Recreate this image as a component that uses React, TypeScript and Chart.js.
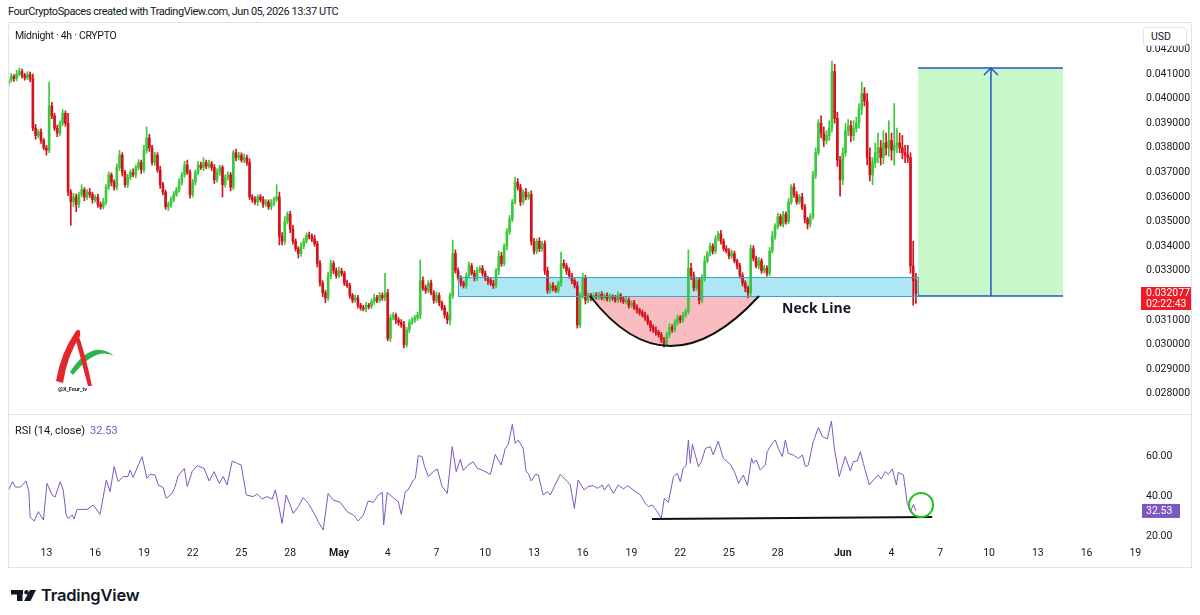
import React, { useEffect, useRef } from 'react';
import { Chart, registerables } from 'chart.js';

Chart.register(...registerables);

// ---------- DATA (prices in units of 0.00001 USD) ----------
const UNIT = 1e-5;
const FIRST_OPEN = 4060;
const closes = [
  4075,4090,4082,4100,4110,4095,4085,4098,4080,3880,
  3850,3865,3830,3800,3790,3970,3930,3880,3860,3900,
  3940,3900,3620,3580,3600,3570,3610,3630,3600,3620,
  3610,3590,3600,3570,3560,3580,3640,3690,3660,3640,
  3720,3770,3700,3650,3680,3700,3690,3720,3740,3710,
  3790,3840,3800,3740,3770,3710,3650,3620,3560,3570,
  3590,3610,3630,3660,3690,3730,3700,3610,3660,3700,
  3730,3720,3740,3725,3735,3720,3670,3700,3720,3650,
  3680,3690,3640,3780,3760,3770,3750,3760,3740,3600,
  3590,3580,3600,3590,3570,3580,3560,3575,3590,3600,
  3440,3420,3500,3530,3470,3420,3390,3370,3400,3420,
  3445,3440,3430,3410,3330,3250,3210,3190,3280,3330,
  3300,3280,3300,3290,3250,3240,3200,3180,3190,3160,
  3150,3145,3160,3155,3175,3190,3180,3200,3190,3210,
  3025,3110,3120,3100,3090,3080,3000,3060,3090,3100,
  3110,3120,3260,3230,3220,3250,3210,3180,3200,3170,
  3150,3120,3100,3200,3370,3300,3270,3250,3240,3280,
  3320,3290,3270,3300,3310,3290,3270,3260,3250,3240,
  3300,3360,3330,3400,3460,3510,3580,3660,3640,3580,
  3620,3600,3610,3420,3380,3420,3390,3410,3300,3220,
  3240,3230,3220,3250,3330,3320,3300,3280,3260,3240,
  3080,3200,3270,3180,3200,3190,3200,3195,3205,3190,
  3200,3185,3195,3190,3180,3200,3185,3175,3180,3160,
  3170,3150,3140,3130,3120,3110,3090,3070,3060,3050,
  3040,3020,3005,3040,3070,3060,3090,3110,3100,3120,
  3135,3310,3280,3230,3260,3180,3270,3340,3370,3400,
  3380,3430,3450,3420,3390,3380,3360,3370,3340,3320,
  3280,3250,3230,3210,3390,3350,3320,3340,3300,3310,
  3290,3380,3440,3480,3520,3490,3530,3500,3580,3640,
  3610,3580,3600,3560,3510,3490,3520,3690,3780,3900,
  3860,3830,3850,3880,4110,3920,3750,3670,3780,3870,
  3890,3850,3880,3900,3960,4020,3990,3760,3690,3740,
  3780,3800,3760,3820,3800,3830,3790,3810,3820,3800,
  3780,3770,3760,3320,3260,3207.7,
];
const upperWicks = [
  10,12,8,15,14,10,8,12,10,20,
  15,10,12,8,10,97,15,10,12,10,
  15,10,40,10,15,12,10,20,8,10,
  15,10,8,12,10,15,10,12,8,10,
  15,20,10,8,12,10,15,10,12,10,
  20,45,15,10,12,10,15,10,8,10,
  10,12,10,15,10,15,20,10,12,10,
  15,12,20,10,15,10,12,15,10,8,
  10,12,10,10,15,12,10,15,10,15,
  10,12,8,10,12,10,8,15,10,50,
  20,15,20,10,12,15,10,8,15,12,
  10,12,10,15,10,12,10,10,15,14,
  10,12,15,10,8,12,10,8,12,10,
  8,10,12,8,10,15,10,12,10,80,
  15,12,10,8,10,12,15,10,12,10,
  8,12,84,15,12,10,12,10,15,10,
  8,10,12,10,55,15,12,10,8,12,
  15,10,12,15,10,12,10,8,10,12,
  10,20,15,10,12,15,10,21,15,12,
  10,15,10,15,12,10,15,10,12,15,
  10,12,10,8,46,15,10,12,10,8,
  15,10,20,12,10,8,10,12,8,10,
  8,10,12,8,10,15,8,10,12,10,
  8,10,12,8,10,12,10,8,10,12,
  8,10,10,12,15,10,12,10,8,12,
  10,75,20,15,12,10,15,20,10,12,
  10,12,10,15,10,12,10,15,10,8,
  10,12,10,8,15,12,10,15,10,12,
  10,15,20,12,15,10,12,10,15,10,
  15,12,10,15,10,8,12,15,20,15,
  30,25,20,30,43,30,25,15,20,30,
  25,20,30,25,20,47,25,30,40,20,
  40,60,30,50,40,80,30,170,60,40,
  50,30,40,20,100,30,
];
const lowerWicks = [
  10,8,12,10,8,12,10,8,12,10,
  15,10,12,8,20,10,12,10,15,10,
  10,12,15,95,20,30,12,10,15,10,
  12,15,10,12,10,8,12,10,15,12,
  10,12,15,10,12,10,8,12,10,15,
  10,12,15,10,12,10,15,12,10,15,
  12,10,8,10,12,10,8,15,10,12,
  10,8,12,10,8,12,15,10,12,50,
  10,12,15,10,12,10,8,10,12,10,
  12,10,15,10,12,8,10,12,10,8,
  35,15,12,10,15,12,10,18,12,10,
  8,10,12,10,15,12,15,20,10,12,
  12,10,8,12,10,8,12,10,8,12,
  10,8,12,10,8,12,10,8,10,12,
  10,12,10,15,12,10,14,10,12,8,
  10,12,15,10,12,10,8,12,10,12,
  10,12,15,20,12,10,8,12,10,12,
  10,8,12,10,8,12,10,15,10,12,
  10,15,12,10,15,12,10,8,12,15,
  10,12,10,15,12,10,12,10,15,12,
  10,12,8,10,12,10,15,10,12,10,
  13,10,12,15,10,12,8,10,12,8,
  10,8,12,10,8,10,12,8,10,12,
  10,8,12,10,8,12,10,15,10,12,
  10,12,15,10,12,10,8,10,12,10,
  8,10,15,12,10,15,10,12,8,10,
  12,10,8,12,10,8,12,10,8,12,
  10,12,15,20,12,10,8,12,10,8,
  12,10,8,12,10,8,12,10,8,10,
  12,10,8,12,15,20,12,10,15,10,
  20,25,15,20,15,20,25,67,20,15,
  20,25,20,15,20,25,20,30,25,40,
  20,40,30,25,30,35,40,60,30,20,
  25,30,20,30,100,40,
];

// RSI (14, close): x = candle index, y = RSI value
const rsiIdx = [
  0,1.5,2.5,4.5,6.5,7.5,8,9.5,11,12.9,
  14.2,16.1,17.2,19.1,20.2,21.3,22,23.5,24.2,25.3,
  29,31.3,33.8,36.1,37.5,39,40.5,42.3,44.1,44.9,
  46,49.3,51.1,52.3,54.1,55.3,57.1,58.2,60.4,61.5,
  62.6,64.9,66,67.8,69.7,72.2,74.1,75.9,77.8,79.3,
  80.7,82.6,84.5,85.9,87.8,90.3,91.8,93.7,95.5,97.4,
  98.5,99.6,101,102.5,104,105.1,107,108.8,110.7,113.2,
  114.3,116.2,118,119.9,122.5,125,127.3,129.1,131,132.8,
  134.7,136.5,138,138.5,139.8,142,143.9,145,146.5,147.5,
  149.5,150.2,151.3,152.7,153.5,155,156.8,158.3,160.1,162,
  163.8,165.3,166.8,167.9,169.5,171.5,173.1,174.9,177.9,179.7,
  181.9,183.4,184.5,186,187.1,188.2,190,191.1,191.9,193,
  194.5,195.6,197.4,198.9,200,203.7,206.3,207.4,208.9,210.3,
  212.5,214,215.9,217.4,219.2,220,221.5,223.3,225.1,227,
  228.5,230.7,233.3,235.1,236.2,237.7,239.5,241,242.1,243.6,
  245.5,246.9,248,249.1,250.2,251,251.7,252.5,254.7,255.8,
  257.3,259.1,260.2,262,263.9,266.5,268.3,269.5,271.3,272.8,
  274.3,275,276.1,277.5,279.4,280.1,282,283.1,284.2,285.7,
  286.8,287.9,289.7,291.6,293.1,294.2,295.3,297.1,299,300.5,
  302.3,303.8,304.9,306.7,308.9,310.8,311.9,313.4,314.5,315.6,
  317.8,319.3,321.1,322.2,323.7,324.8,326.3,327.8,328.5,330.4,
  331.8,333,334.1,335,
];
const rsiVal = [
  43,47.2,44.5,44.5,47.5,42.2,29.5,27.5,32.2,28,
  46.3,40.5,39.5,47.2,43,30.5,28.8,30.5,28.5,33.3,
  33.3,35.5,30.8,48,42.2,54.7,47.2,49.7,49.7,53,
  49.3,59.7,48.8,50.8,50.5,45.5,44.2,38.8,41.3,44.7,
  50,53.8,44.7,52.2,55.2,53.8,47.5,52.2,46.3,49.7,
  45.5,57.5,56.3,55.5,40.5,39.7,41,38.5,39.7,38.5,
  43,36.3,26.3,40.5,35.5,31.3,34.7,39.2,36.3,30.5,
  27.2,23,41.3,38,36.8,32.2,30.5,27.5,30.5,37.5,
  36.8,40.5,41.8,25.5,41.8,39.2,37.2,30.8,42.2,43,
  48,48.8,60.2,59.7,55.2,49.7,52.2,53.5,44.7,41.3,
  64.7,52.2,58.3,52.8,55.2,57.2,53.8,53,50.8,60.8,
  55.5,63.8,65.8,75.8,66.3,68,63.8,52.2,51.3,47.5,
  50.8,50.5,40.5,42.2,40.5,50.8,47.2,45.5,33.8,48,
  43,44.7,45.2,43.8,45.5,43,45.8,41.3,45.5,43.5,
  45.2,43,40.5,36.3,34.7,35.5,32.2,28.8,38.8,36.8,
  49.7,51.3,47.2,53.8,55.5,68,56.3,65.8,54.7,57.2,
  63.8,64.7,60.5,67.5,58.8,55.8,51.3,46.3,50.5,45.2,
  58.8,56.3,58,53,55.5,62.2,66.3,68,63.8,59.7,
  68,61.3,60.5,58.8,60.5,54.7,55.5,67.2,74.2,69.7,
  68.5,77.5,63.8,49.7,59.7,52.5,57.2,57.5,62.2,56.3,
  45.5,48,50.5,48.5,52.2,50.8,53.5,45.5,51.8,50.5,
  36.3,32.2,35.8,32.53,
];

const priceTicks = [0.028,0.029,0.030,0.031,0.032,0.033,0.034,0.035,0.036,0.037,0.038,0.039,0.040,0.041,0.042];
const rsiTicks = [20, 40, 60];
const timeTickLabels = ['13','16','19','22','25','28','May','4','7','10','13','16','19','22','25','28','Jun','4','7','10','13','16','19'];
const timeTickDays = [0,3,6,9,12,15,18,21,24,27,30,33,36,39,42,45,49,52,55,58,61,64,67];
const CANDLES_PER_DAY = 6;
const FIRST_DAY_CANDLE = 14; // Apr 13 00:00 candle index
const COUNTDOWN = '02:22:43';
const RSI_LAST = 32.53;

// drawings (in data units: candle index / price / RSI)
const neckZone = { start: 166, end: 335.8, low: 0.031976, high: 0.032748 };
const targetBox = { start: 335.8, end: 389.3, low: 0.031976, high: 0.041244 };
const targetArrowX = 362.7;
const cup = { start: 214.7, end: 277.1, top: 0.031976, ctrlX: 243.1, ctrlY: 0.02791 };
const neckLabel = { x: 285.6, y: 0.031447, text: 'Neck Line' };
const rsiTrend = { x0: 237.6, y0: 28.5, x1: 341, y1: 29.5 };
const rsiCircle = { x: 336.9, y: 35.5 };

const X_MIN = -0.185, X_MAX = 418.1;
const P_MIN = 0.0271789, P_MAX = 0.0431138;
const R_MIN = 18, R_MAX = 80.5;

const UP = '#3cc83c';
const DOWN = '#d3121c';
const TXT = '#131722';
const FONT = 'Roboto, "Liberation Sans", sans-serif';
const AXIS_FONT_SIZE = 10.5;

export default function App() {
  const priceRef = useRef<HTMLCanvasElement>(null);
  const rsiRef = useRef<HTMLCanvasElement>(null);

  useEffect(() => {
    const opens = closes.map((c, i) => (i === 0 ? FIRST_OPEN : closes[i - 1]));
    const bodies = closes.map((c, i) => ({ x: i, y: [opens[i] * UNIT, c * UNIT] }));
    const wicks = closes.map((c, i) => ({
      x: i,
      y: [(Math.min(opens[i], c) - lowerWicks[i]) * UNIT, (Math.max(opens[i], c) + upperWicks[i]) * UNIT],
    }));
    const colors = closes.map((c, i) => (c >= opens[i] ? UP : DOWN));
    const lastClose = closes[closes.length - 1] * UNIT;

    const priceOverlay = {
      id: 'priceOverlay',
      beforeDatasetsDraw(chart: any) {
        const { ctx, scales: { x, y } } = chart;
        ctx.save();
        const nx0 = x.getPixelForValue(neckZone.start), nx1 = x.getPixelForValue(neckZone.end);
        const ny0 = y.getPixelForValue(neckZone.high), ny1 = y.getPixelForValue(neckZone.low);
        ctx.fillStyle = '#aee6f3';
        ctx.fillRect(nx0, ny0, nx1 - nx0, ny1 - ny0);
        const tx0 = x.getPixelForValue(targetBox.start), tx1 = x.getPixelForValue(targetBox.end);
        const ty0 = y.getPixelForValue(targetBox.high), ty1 = y.getPixelForValue(targetBox.low);
        ctx.fillStyle = '#c8f7c9';
        ctx.fillRect(tx0, ty0, tx1 - tx0, ty1 - ty0);
        const cx0 = x.getPixelForValue(cup.start), cx1 = x.getPixelForValue(cup.end);
        const cyt = y.getPixelForValue(cup.top);
        const cpx = x.getPixelForValue(cup.ctrlX), cpy = y.getPixelForValue(cup.ctrlY);
        ctx.beginPath();
        ctx.moveTo(cx0, cyt);
        ctx.quadraticCurveTo(cpx, cpy, cx1, cyt);
        ctx.closePath();
        ctx.fillStyle = '#f8bcc1';
        ctx.fill();
        ctx.restore();
      },
      afterDatasetsDraw(chart: any) {
        const { ctx, scales: { x, y } } = chart;
        ctx.save();
        const nx0 = x.getPixelForValue(neckZone.start), nx1 = x.getPixelForValue(neckZone.end);
        const ny0 = y.getPixelForValue(neckZone.high), ny1 = y.getPixelForValue(neckZone.low);
        ctx.strokeStyle = '#36a6c6';
        ctx.lineWidth = 1;
        ctx.strokeRect(Math.round(nx0) + 0.5, Math.round(ny0) + 0.5, Math.round(nx1 - nx0), Math.round(ny1 - ny0));
        const cx0 = x.getPixelForValue(cup.start), cx1 = x.getPixelForValue(cup.end);
        const cyt = y.getPixelForValue(cup.top);
        const cpx = x.getPixelForValue(cup.ctrlX), cpy = y.getPixelForValue(cup.ctrlY);
        ctx.beginPath();
        ctx.moveTo(cx0, cyt);
        ctx.quadraticCurveTo(cpx, cpy, cx1, cyt);
        ctx.strokeStyle = '#111111';
        ctx.lineWidth = 2;
        ctx.stroke();
        const tx0 = x.getPixelForValue(targetBox.start), tx1 = x.getPixelForValue(targetBox.end);
        const ty0 = y.getPixelForValue(targetBox.high), ty1 = y.getPixelForValue(targetBox.low);
        ctx.strokeStyle = '#2456c6';
        ctx.lineWidth = 1.5;
        ctx.beginPath();
        ctx.moveTo(tx0, ty0); ctx.lineTo(tx1, ty0);
        ctx.moveTo(tx0, ty1); ctx.lineTo(tx1, ty1);
        ctx.stroke();
        const ax = x.getPixelForValue(targetArrowX);
        ctx.beginPath();
        ctx.moveTo(ax, ty1); ctx.lineTo(ax, ty0);
        ctx.moveTo(ax - 7, ty0 + 7); ctx.lineTo(ax, ty0); ctx.lineTo(ax + 7, ty0 + 7);
        ctx.stroke();
        ctx.fillStyle = TXT;
        ctx.font = 'bold 14px "Open Sans", sans-serif';
        ctx.textAlign = 'left';
        ctx.textBaseline = 'middle';
        ctx.fillText(neckLabel.text, x.getPixelForValue(neckLabel.x), y.getPixelForValue(neckLabel.y));
        ctx.restore();
      },
      afterDraw(chart: any) {
        const { ctx, chartArea, scales: { y } } = chart;
        const yp = y.getPixelForValue(lastClose);
        ctx.save();
        ctx.fillStyle = '#ee1c27';
        ctx.fillRect(chartArea.right, yp - 6.5, 52, 23);
        ctx.fillStyle = '#ffffff';
        ctx.font = AXIS_FONT_SIZE + 'px ' + FONT;
        ctx.textAlign = 'left';
        ctx.textBaseline = 'middle';
        ctx.fillText(lastClose.toFixed(6), chartArea.right + 5, yp);
        ctx.fillText(COUNTDOWN, chartArea.right + 5, yp + 11);
        ctx.restore();
      },
    };

    const priceChart = new Chart(priceRef.current as HTMLCanvasElement, {
      type: 'bar',
      data: {
        datasets: [
          { type: 'bar', data: bodies as any, backgroundColor: colors, barThickness: 2, grouped: false, order: 1, minBarLength: 1, borderWidth: 0 } as any,
          { type: 'bar', data: wicks as any, backgroundColor: colors, barThickness: 1, grouped: false, order: 2, borderWidth: 0 } as any,
        ],
      },
      options: {
        animation: false,
        responsive: false,
        devicePixelRatio: 1,
        layout: { padding: 0 },
        plugins: { legend: { display: false }, tooltip: { enabled: false } },
        scales: {
          x: { type: 'linear', min: X_MIN, max: X_MAX, display: false, offset: false },
          y: {
            type: 'linear', position: 'right', min: P_MIN, max: P_MAX,
            grid: { display: false, drawTicks: false },
            border: { display: false },
            ticks: { color: TXT, font: { family: FONT, size: AXIS_FONT_SIZE }, padding: 5, callback: (v: any) => Number(v).toFixed(6) },
            afterBuildTicks: (s: any) => { s.ticks = priceTicks.map((v) => ({ value: v })); },
            afterFit: (s: any) => { s.width = 51; s.paddingTop = 0; s.paddingBottom = 0; },
          },
        },
      } as any,
      plugins: [priceOverlay],
    });

    const rsiOverlay = {
      id: 'rsiOverlay',
      afterDatasetsDraw(chart: any) {
        const { ctx, scales: { x, y } } = chart;
        ctx.save();
        ctx.strokeStyle = '#111111';
        ctx.lineWidth = 2;
        ctx.beginPath();
        ctx.moveTo(x.getPixelForValue(rsiTrend.x0), y.getPixelForValue(rsiTrend.y0));
        ctx.lineTo(x.getPixelForValue(rsiTrend.x1), y.getPixelForValue(rsiTrend.y1));
        ctx.stroke();
        ctx.strokeStyle = '#22c322';
        ctx.lineWidth = 2;
        ctx.beginPath();
        ctx.arc(x.getPixelForValue(rsiCircle.x), y.getPixelForValue(rsiCircle.y), 12, 0, Math.PI * 2);
        ctx.stroke();
        ctx.restore();
      },
      afterDraw(chart: any) {
        const { ctx, chartArea, scales: { y } } = chart;
        ctx.save();
        const yr = y.getPixelForValue(RSI_LAST);
        ctx.fillStyle = '#7e57c2';
        ctx.fillRect(chartArea.right + 1, yr - 7, 38, 14);
        ctx.fillStyle = '#ffffff';
        ctx.font = AXIS_FONT_SIZE + 'px ' + FONT;
        ctx.textAlign = 'left';
        ctx.textBaseline = 'middle';
        ctx.fillText(RSI_LAST.toFixed(2), chartArea.right + 5, yr);
        // legend
        ctx.fillStyle = TXT;
        ctx.font = '11px ' + FONT;
        const label = 'RSI (14, close)';
        ctx.fillText(label, chartArea.left + 7, chartArea.top + 16);
        const w = ctx.measureText(label).width;
        ctx.fillStyle = '#7e57c2';
        ctx.fillText(RSI_LAST.toFixed(2), chartArea.left + 7 + w + 5, chartArea.top + 16);
        ctx.restore();
      },
    };

    const tickIdx = timeTickDays.map((d) => FIRST_DAY_CANDLE + d * CANDLES_PER_DAY);
    const rsiPoints = rsiIdx.map((xv, i) => ({ x: xv, y: rsiVal[i] }));

    const rsiChart = new Chart(rsiRef.current as HTMLCanvasElement, {
      type: 'line',
      data: {
        datasets: [
          { data: rsiPoints as any, borderColor: '#7e57c2', borderWidth: 1, pointRadius: 0, tension: 0, fill: false },
        ],
      },
      options: {
        animation: false,
        responsive: false,
        devicePixelRatio: 1,
        layout: { padding: 0 },
        plugins: { legend: { display: false }, tooltip: { enabled: false } },
        scales: {
          x: {
            type: 'linear', min: X_MIN, max: X_MAX, offset: false,
            grid: { display: false, drawTicks: false },
            border: { display: false },
            ticks: {
              autoSkip: false, maxRotation: 0, padding: 7, color: TXT,
              font: (c: any) => ({ family: FONT, size: AXIS_FONT_SIZE, weight: c.tick && (c.tick.label === 'May' || c.tick.label === 'Jun') ? 'bold' : 'normal' }),
              callback: (_v: any, i: number) => timeTickLabels[i],
            },
            afterBuildTicks: (s: any) => { s.ticks = tickIdx.map((v) => ({ value: v })); },
            afterFit: (s: any) => { s.height = 28; s.paddingLeft = 0; s.paddingRight = 0; },
          },
          y: {
            type: 'linear', position: 'right', min: R_MIN, max: R_MAX,
            grid: { display: false, drawTicks: false },
            border: { display: false },
            ticks: { color: TXT, font: { family: FONT, size: AXIS_FONT_SIZE }, padding: 5, callback: (v: any) => Number(v).toFixed(2) },
            afterBuildTicks: (s: any) => { s.ticks = rsiTicks.map((v) => ({ value: v })); },
            afterFit: (s: any) => { s.width = 51; s.paddingTop = 0; s.paddingBottom = 0; },
          },
        },
      } as any,
      plugins: [rsiOverlay],
    });

    return () => {
      priceChart.destroy();
      rsiChart.destroy();
    };
  }, []);

  const abs = (l: number, t: number, extra: any = {}) => ({ position: 'absolute' as const, left: l, top: t, ...extra });

  return (
    <div style={{ position: 'absolute', left: 0, top: 0, width: 1200, height: 615, background: '#ffffff', overflow: 'hidden', fontFamily: FONT, color: TXT }}>
      <div style={abs(8, 5, { fontSize: 11, lineHeight: '14px', whiteSpace: 'nowrap', letterSpacing: '-0.45px' })}>
        FourCryptoSpaces created with TradingView.com, Jun 05, 2026 13:37 UTC
      </div>
      <canvas ref={priceRef} width={1184} height={392} style={abs(8, 22, { width: 1184, height: 392 })} />
      <canvas ref={rsiRef} width={1184} height={153} style={abs(8, 415, { width: 1184, height: 153 })} />
      <div style={abs(15, 29, { fontSize: 10.5, lineHeight: '14px', whiteSpace: 'nowrap', letterSpacing: '-0.3px' })}>Midnight · 4h · CRYPTO</div>
      <div style={abs(1143, 27, { width: 44, height: 19, boxSizing: 'border-box', border: '1px solid #e0e3eb', borderRadius: 3, background: '#ffffff', fontSize: 10.5, lineHeight: '17px', paddingLeft: 7 })}>USD</div>
      {/* frame */}
      <div style={abs(8, 22, { width: 1184, height: 546, boxSizing: 'border-box', border: '1px solid #e0e3eb', pointerEvents: 'none' })} />
      <div style={abs(8, 414, { width: 1184, height: 1, background: '#e0e3eb' })} />
      {/* author logo */}
      <svg style={abs(50, 325)} width={70} height={70} viewBox="50 325 70 70">
        <path d="M70 372 Q92 338 114 356 Q96 346 73 375 Z" fill="#2db44a" />
        <path d="M56 381 Q61 352 76 331 Q81 327 80 336 Q67 356 63 383 Z" fill="#e3262b" />
        <path d="M77 331 Q85 352 92 386 L88 386 Q80 356 75 337 Z" fill="#e3262b" />
        <text x={58} y={391} fontSize={5.5} fontWeight="bold" fill="#222" fontFamily="Roboto, sans-serif">@X_Four_tv</text>
      </svg>
      {/* TradingView footer */}
      <svg style={abs(10, 588)} width={28} height={14} viewBox="10 588 28 14">
        <rect x={11} y={590} width={12} height={4.5} fill="#131722" />
        <rect x={17} y={590} width={5.5} height={11} fill="#131722" />
        <circle cx={26.5} cy={592.2} r={2.2} fill="#131722" />
        <polygon points="30,590 36,590 30.5,601 24,601" fill="#131722" />
      </svg>
      <div style={abs(41, 585, { fontSize: 16.5, fontWeight: 600, lineHeight: '20px', fontFamily: 'Inter, Roboto, sans-serif', letterSpacing: '-0.2px' })}>TradingView</div>
    </div>
  );
}
